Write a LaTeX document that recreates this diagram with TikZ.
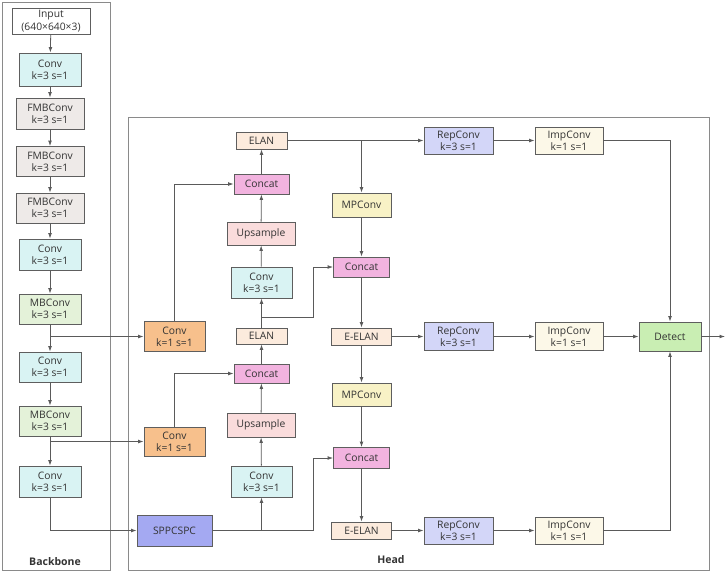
\documentclass[tikz,border=0pt]{standalone}
\usepackage{fontspec}
\setmainfont{Open Sans}
\usetikzlibrary{arrows.meta,calc}
\definecolor{linec}{HTML}{5A5A5A}
\definecolor{bordc}{HTML}{5E5E5E}
\definecolor{framec}{HTML}{8A8A8A}
\definecolor{convc}{HTML}{D9F3F3}
\definecolor{fmbc}{HTML}{EEEAE8}
\definecolor{mbc}{HTML}{E4F2D9}
\definecolor{konec}{HTML}{F7C08C}
\definecolor{sppc}{HTML}{A4A9F2}
\definecolor{catc}{HTML}{F2B3DF}
\definecolor{upsc}{HTML}{FADCDC}
\definecolor{elanc}{HTML}{FCEBDD}
\definecolor{mpc}{HTML}{F8F2C6}
\definecolor{repc}{HTML}{D3D6F8}
\definecolor{impc}{HTML}{FCF8E8}
\definecolor{detc}{HTML}{C9EEB3}
\definecolor{txtc}{HTML}{333333}
\tikzset{
  blk/.style={draw=bordc, line width=0.8pt, align=center, inner sep=0pt,
    font=\fontsize{10.3}{12.3}\selectfont, text=txtc},
  arr/.style={draw=linec, line width=0.8pt, -{Latex[length=5.5pt,width=3.8pt]}},
  ln/.style={draw=linec, line width=0.8pt},
  frame/.style={draw=framec, line width=0.9pt},
  lbl/.style={font=\fontsize{10.5}{12}\selectfont\bfseries, text=txtc}
}
\begin{document}
\begin{tikzpicture}[x=1pt,y=-1pt]
\useasboundingbox (0,0) rectangle (727,573);
% frames
\draw[frame] (2,2) rectangle (110,570);
\draw[frame] (128,117) rectangle (709,570);
\node[lbl] (bbl) at (55,562) {Backbone};
\node[lbl] (hdl) at (391,560) {Head};
% backbone
\node[blk, fill=white, minimum width=78pt, minimum height=26pt] (in) at (51,21) {Input\\(640×640×3)};
\node[blk, fill=convc, minimum width=62pt, minimum height=33pt] (c1) at (50,69.5) {Conv\\k=3 s=1};
\node[blk, fill=fmbc, minimum width=68pt, minimum height=31pt] (f1) at (50,113.5) {FMBConv\\k=3 s=1};
\node[blk, fill=fmbc, minimum width=68pt, minimum height=30pt] (f2) at (50,161.5) {FMBConv\\k=3 s=1};
\node[blk, fill=fmbc, minimum width=68pt, minimum height=30pt] (f3) at (50,208) {FMBConv\\k=3 s=1};
\node[blk, fill=convc, minimum width=62pt, minimum height=31pt] (c2) at (50,254.5) {Conv\\k=3 s=1};
\node[blk, fill=mbc, minimum width=62pt, minimum height=30pt] (m1) at (50,309) {MBConv\\k=3 s=1};
\node[blk, fill=convc, minimum width=62pt, minimum height=30pt] (c3) at (50,367) {Conv\\k=3 s=1};
\node[blk, fill=mbc, minimum width=62pt, minimum height=30pt] (m2) at (50,421) {MBConv\\k=3 s=1};
\node[blk, fill=convc, minimum width=62pt, minimum height=31pt] (c4) at (50,481.5) {Conv\\k=3 s=1};
% head column 1
\node[blk, fill=konec, minimum width=61pt, minimum height=30pt] (k1a) at (174.5,336.5) {Conv\\k=1 s=1};
\node[blk, fill=konec, minimum width=61pt, minimum height=29pt] (k1b) at (174.5,441.5) {Conv\\k=1 s=1};
\node[blk, fill=sppc, minimum width=75pt, minimum height=31pt] (spp) at (174.5,530.5) {SPPCSPC};
% head column 2
\node[blk, fill=elanc, minimum width=51pt, minimum height=17pt] (elan1) at (261.5,140.5) {ELAN};
\node[blk, fill=catc, minimum width=55pt, minimum height=20pt] (cat1) at (261.5,184) {Concat};
\node[blk, fill=upsc, minimum width=68pt, minimum height=23pt] (up1) at (261,233.5) {Upsample};
\node[blk, fill=convc, minimum width=61pt, minimum height=31pt] (hc1) at (261.5,282.5) {Conv\\k=3 s=1};
\node[blk, fill=elanc, minimum width=51pt, minimum height=16pt] (elan2) at (261.5,336) {ELAN};
\node[blk, fill=catc, minimum width=55pt, minimum height=19pt] (cat2) at (261.5,373.5) {Concat};
\node[blk, fill=upsc, minimum width=68pt, minimum height=24pt] (up2) at (261,425) {Upsample};
\node[blk, fill=convc, minimum width=61pt, minimum height=31pt] (hc2) at (261.5,481.5) {Conv\\k=3 s=1};
% head column 3
\node[blk, fill=mpc, minimum width=59pt, minimum height=24pt] (mp1) at (361.5,205) {MPConv};
\node[blk, fill=catc, minimum width=56pt, minimum height=20pt] (cat3) at (361.5,267) {Concat};
\node[blk, fill=elanc, minimum width=60pt, minimum height=17pt] (ee1) at (361.5,336.5) {E-ELAN};
\node[blk, fill=mpc, minimum width=59pt, minimum height=23pt] (mp2) at (361.5,394.5) {MPConv};
\node[blk, fill=catc, minimum width=56pt, minimum height=21pt] (cat4) at (361.5,458) {Concat};
\node[blk, fill=elanc, minimum width=60pt, minimum height=17pt] (ee2) at (361.5,530.5) {E-ELAN};
% head right
\node[blk, fill=repc, minimum width=69pt, minimum height=27pt] (rep1) at (458.5,140.5) {RepConv\\k=3 s=1};
\node[blk, fill=impc, minimum width=68pt, minimum height=27pt] (imp1) at (569,140.5) {ImpConv\\k=1 s=1};
\node[blk, fill=repc, minimum width=69pt, minimum height=28pt] (rep2) at (458.5,336.5) {RepConv\\k=3 s=1};
\node[blk, fill=impc, minimum width=68pt, minimum height=28pt] (imp2) at (569,336.5) {ImpConv\\k=1 s=1};
\node[blk, fill=detc, minimum width=62pt, minimum height=29pt] (det) at (670,336.5) {Detect};
\node[blk, fill=repc, minimum width=69pt, minimum height=27pt] (rep3) at (458.5,530.5) {RepConv\\k=3 s=1};
\node[blk, fill=impc, minimum width=68pt, minimum height=27pt] (imp3) at (569,530.5) {ImpConv\\k=1 s=1};
\coordinate (out) at (725,336.5);
\coordinate (b1) at (261.5,317);
\coordinate (b1x) at (313,317);
\coordinate (b2x) at (313,530.5);
% backbone arrows
\draw[arr] (in) -- (c1);
\draw[arr] (c1) -- (f1);
\draw[arr] (f1) -- (f2);
\draw[arr] (f2) -- (f3);
\draw[arr] (f3) -- (c2);
\draw[arr] (c2) -- (m1);
\draw[arr] (m1) -- (c3);
\draw[arr] (c3) -- (m2);
\draw[arr] (m2) -- (c4);
\draw[arr] (m1.south |- k1a.west) -- (k1a.west);
\draw[arr] (m2.south |- k1b.west) -- (k1b.west);
\draw[arr] (c4.south) |- (spp.west);
% head arrows
\draw[arr] (k1a.north) |- (cat1.west);
\draw[arr] (k1b.north) |- (cat2.west);
\draw[arr] (up1) -- (cat1);
\draw[arr] (cat1) -- (elan1);
\draw[arr] (hc1) -- (up1);
\draw[arr] (elan2) -- (hc1);
\draw[arr] (b1) -- (b1x) |- (cat3.west);
\draw[arr] (cat2) -- (elan2);
\draw[arr] (up2) -- (cat2);
\draw[arr] (hc2) -- (up2);
\draw[arr] (spp.east) -- (b2x) |- (cat4.west);
\draw[arr] (hc2.south |- spp.east) -- (hc2.south);
\draw[arr] (elan1) -- (rep1);
\draw[arr] (mp1.north |- elan1.east) -- (mp1.north);
\draw[arr] (mp1) -- (cat3);
\draw[arr] (cat3) -- (ee1);
\draw[arr] (ee1) -- (mp2);
\draw[arr] (mp2) -- (cat4);
\draw[arr] (cat4) -- (ee2);
\draw[arr] (rep1) -- (imp1);
\draw[arr] (imp1.east) -| (det.north);
\draw[arr] (ee1) -- (rep2);
\draw[arr] (rep2) -- (imp2);
\draw[arr] (imp2) -- (det);
\draw[arr] (ee2) -- (rep3);
\draw[arr] (rep3) -- (imp3);
\draw[arr] (imp3.east) -| (det.south);
\draw[arr] (det) -- (out);
\end{tikzpicture}
\end{document}
